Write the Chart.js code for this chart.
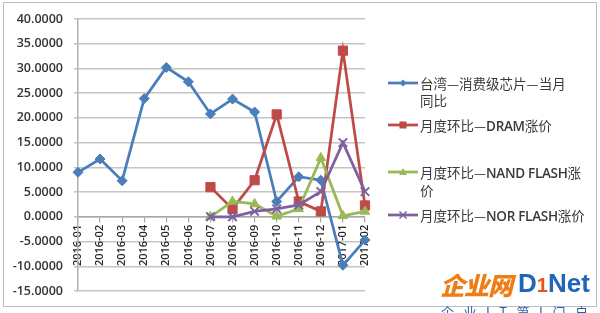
<!DOCTYPE html>
<html>
<head>
<meta charset="utf-8">
<script src="https://cdn.jsdelivr.net/npm/chart.js@4.4.1/dist/chart.umd.min.js"></script>
<style>
  html, body { margin: 0; padding: 0; background: #fff; }
  #wrap { position: relative; width: 600px; height: 313px; overflow: hidden; background: #fff; }
  #c { position: absolute; left: 0; top: 0; }
  #frame { position: absolute; left: 3px; top: 2px; width: 592px; height: 303px; border: 1.5px solid #bdbdbd; box-sizing: content-box; pointer-events: none; }
  .lg { position: absolute; left: 388px; font-family: "Noto Sans CJK SC", "Noto Sans", sans-serif; font-size: 13.5px; color: #3a3a3a; line-height: 17px; white-space: nowrap; }
  .lg svg { position: absolute; left: 0; top: 0; }
  .lg .t { position: absolute; left: 32px; top: -8px; }
  .lg .t b { font-family: "Open Sans", "Noto Sans", sans-serif; font-weight: 600; letter-spacing: -0.3px; }
  #wm1 { position: absolute; left: 440px; top: 266px; font-family: "Noto Sans CJK SC", sans-serif; font-weight: 900; font-size: 25px; color: #ef7d16; letter-spacing: -1px; font-style: italic; }
  #wm2 { position: absolute; left: 518px; top: 268px; font-family: "Liberation Sans", sans-serif; font-weight: bold; font-size: 26px; color: #2266b8; letter-spacing: 0px; }
  #wm2 span { color: #e8541c; font-size: 20px; }
  #wm3 { position: absolute; left: 441px; top: 302px; font-family: "Noto Sans CJK SC", sans-serif; font-size: 13px; color: #2a5fa8; letter-spacing: 9.5px; }
</style>
</head>
<body>
<div id="wrap">
  <canvas id="c" width="600" height="313"></canvas>
  <div id="frame"></div>
  <div id="legend"></div>
  <div id="wm1">企业网</div>
  <div id="wm2">D<span>1</span>Net</div>
  <div id="wm3">企业IT第I门户</div>
</div>
<script>
// ---- data ----
const months = ['2016-01','2016-02','2016-03','2016-04','2016-05','2016-06','2016-07','2016-08','2016-09','2016-10','2016-11','2016-12','2017-01','2017-02'];
const taiwanYoY = [9.0, 11.7, 7.3, 23.9, 30.2, 27.3, 20.8, 23.8, 21.2, 3.1, 8.1, 7.4, -9.8, -4.7];
const dramMoM = [null, null, null, null, null, null, 6.0, 1.6, 7.4, 20.7, 3.1, 1.1, 33.6, 2.3];
const nandMoM = [null, null, null, null, null, null, 0.0, 3.1, 2.6, 0.1, 1.6, 11.9, 0.2, 1.1];
const norMoM = [null, null, null, null, null, null, 0.0, 0.0, 1.1, 1.6, 2.4, 5.1, 15.0, 5.1];
const seriesNames = ['台湾—消费级芯片—当月同比', '月度环比—DRAM涨价', '月度环比—NAND FLASH涨价', '月度环比—NOR FLASH涨价'];
const yTicks = { min: -15, max: 40, step: 5 };

// ---- styles ----
const colors = ['#4a7ebb', '#be4b48', '#98b954', '#7d60a0'];
const markers = ['rectRot', 'rect', 'triangle', 'crossRot'];
const radii = [5, 6.5, 5.5, 6];
const values = [taiwanYoY, dramMoM, nandMoM, norMoM];

const datasets = values.map((v, i) => ({
  label: seriesNames[i],
  data: v,
  borderColor: colors[i],
  backgroundColor: colors[i],
  pointBackgroundColor: colors[i],
  pointBorderColor: colors[i],
  pointStyle: markers[i],
  pointRadius: radii[i],
  pointBorderWidth: i === 3 ? 2 : 1,
  borderWidth: 2.75,
  tension: 0,
  order: 3 - i,
  spanGaps: false
}));

new Chart(document.getElementById('c'), {
  type: 'line',
  data: { labels: months, datasets },
  options: {
    responsive: false,
    animation: false,
    events: [],
    layout: { padding: { left: 0, right: 235, top: 19, bottom: 22 } },
    plugins: { legend: { display: false }, tooltip: { enabled: false } },
    scales: {
      x: {
        type: 'category',
        offset: false,
        position: { y: 0 },
        grid: { display: true, drawOnChartArea: false, drawTicks: true, tickLength: 5, color: '#a8a8a8', lineWidth: 1.2 },
        border: { display: true, color: '#a8a8a8', width: 1.5 },
        ticks: {
          autoSkip: false, maxRotation: 90, minRotation: 90, padding: 3,
          color: '#262626',
          font: { family: 'Open Sans', size: 11, weight: '600' }
        }
      },
      y: {
        min: yTicks.min, max: yTicks.max,
        afterFit: (s) => { s.width = 78; },
        grid: { color: '#c4c4c4', lineWidth: 1.5, tickLength: 4, drawTicks: true },
        border: { display: true, color: '#b0b0b0', width: 1.5 },
        ticks: {
          stepSize: yTicks.step, padding: 11,
          color: '#333333',
          font: { family: 'Open Sans', size: 12.5, weight: '600' },
          callback: (v) => Number(v).toFixed(4)
        }
      }
    }
  }
});

// ---- HTML legend (wrapped like the reference) ----
const legendTops = [83, 125, 172, 215];
const legendBreaks = [11, null, 16, null]; // character index where the label wraps
const legend = document.getElementById('legend');
function markerSvg(i) {
  const c = colors[i];
  let m = '';
  if (markers[i] === 'rectRot') m = `<polygon points="15,1.5 18.5,5 15,8.5 11.5,5" fill="${c}"/>`;
  if (markers[i] === 'rect') m = `<rect x="11.5" y="1.5" width="7" height="7" fill="${c}"/>`;
  if (markers[i] === 'triangle') m = `<polygon points="15,1 19,8 11,8" fill="${c}"/>`;
  if (markers[i] === 'crossRot') m = `<path d="M11.5 1.5 L18.5 8.5 M18.5 1.5 L11.5 8.5" stroke="${c}" stroke-width="1.5"/>`;
  return `<svg width="31" height="10" style="top:-5px"><line x1="0" y1="5" x2="30" y2="5" stroke="${c}" stroke-width="2.75"/>${m}</svg>`;
}
seriesNames.forEach((name, i) => {
  const d = document.createElement('div');
  d.className = 'lg';
  d.style.top = legendTops[i] + 'px';
  let txt = name;
  const br = legendBreaks[i];
  const esc = (s) => s.replace(/([A-Z][A-Z ]*[A-Z])/g, '<b>$1</b>');
  if (br) txt = esc(name.slice(0, br)) + '<br>' + esc(name.slice(br));
  else txt = esc(name);
  d.innerHTML = markerSvg(i) + `<div class="t">${txt}</div>`;
  legend.appendChild(d);
});
</script>
</body>
</html>
